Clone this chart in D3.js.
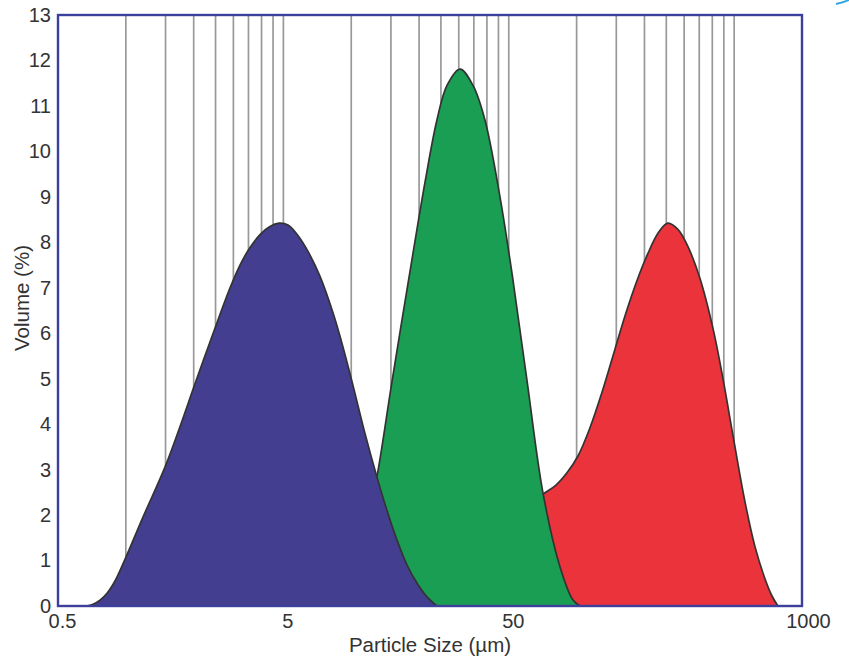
<!DOCTYPE html>
<html>
<head>
<meta charset="utf-8">
<script src="https://cdn.jsdelivr.net/npm/d3@7"></script>
<style>
  html, body { margin: 0; padding: 0; background: #fff; }
  text { font-family: "Liberation Sans", Arial, sans-serif; fill: #333; }
</style>
</head>
<body>
<div id="chart"></div>
<script>
// particle sizes (µm) and volume (%)
const blueSize = [0.666, 0.715, 0.768, 0.825, 0.895, 0.98, 1.19, 1.49, 1.74, 2.03, 2.44, 2.90, 3.21, 3.55, 3.94, 4.36, 4.78, 5.24, 5.80, 6.43, 7.27, 8.3, 9.19, 10.18, 11.5, 13.0, 14.41, 15.96, 17.68, 19.6, 21.68, 24.0];
const blueVol  = [0, 0.04, 0.13, 0.28, 0.55, 0.97, 1.95, 3.05, 3.95, 4.9, 6.0, 7.0, 7.5, 7.88, 8.17, 8.35, 8.42, 8.38, 8.15, 7.8, 7.25, 6.45, 5.7, 4.85, 3.8, 2.84, 2.1, 1.45, 0.9, 0.5, 0.2, 0];

const greenSize = [8.9, 10.4, 11.5, 13.0, 15.2, 19.0, 21.3, 24.0, 26.6, 30.4, 34.7, 39.2, 45.7, 52.2, 60.2, 70.9, 84.4, 96.4, 103.5];
const greenVol  = [0, 0.8, 1.6, 2.84, 4.97, 7.9, 9.35, 10.69, 11.45, 11.81, 11.45, 10.69, 9.0, 7.17, 4.97, 2.49, 0.86, 0.13, 0];

const redSize = [37.3, 45.7, 56.1, 65.3, 72.4, 81.0, 90.6, 101.4, 114.6, 129.6, 148, 165.6, 185, 207, 229.6, 254, 282, 309, 353, 403, 446, 494, 558, 619, 685, 736, 782];
const redVol  = [0, 1.3, 2.1, 2.35, 2.49, 2.66, 2.93, 3.3, 3.92, 4.7, 5.65, 6.45, 7.15, 7.75, 8.2, 8.42, 8.28, 7.95, 7.2, 6.1, 5.0, 3.75, 2.3, 1.3, 0.6, 0.22, 0];

// vertical grid (sieve sizes)
const gridSizes = [1, 1.5, 2, 2.5, 3, 3.5, 4, 4.5, 5, 10, 15, 20, 25, 30, 35, 40, 45, 50, 100, 150, 200, 250, 300, 350, 400, 450, 500];
const xTicks = [0.5, 5, 50, 1000];
const yTicks = d3.range(0, 14);

const W = 849, H = 659;
const margin = { top: 15, right: 47, bottom: 53, left: 58 };
const width = W - margin.left - margin.right;
const height = H - margin.top - margin.bottom;

const svg = d3.select("#chart").append("svg")
  .attr("width", W)
  .attr("height", H);

const g = svg.append("g")
  .attr("transform", `translate(${margin.left},${margin.top})`);

const x = d3.scaleLog().domain([0.5, 1000]).range([0, width]);
const y = d3.scaleLinear().domain([0, 13]).range([height, 0]);

// grid lines
g.selectAll("line.grid").data(gridSizes).enter()
  .append("line")
  .attr("class", "grid")
  .attr("x1", d => x(d)).attr("x2", d => x(d))
  .attr("y1", 0).attr("y2", height)
  .attr("stroke", "#999")
  .attr("stroke-width", 1.7);

// areas, red behind green behind blue
const series = [
  { size: redSize, vol: redVol, color: "#ea333b" },
  { size: greenSize, vol: greenVol, color: "#1a9e53" },
  { size: blueSize, vol: blueVol, color: "#433e8f" }
];

const area = d3.area()
  .x(d => x(d[0]))
  .y0(y(0))
  .y1(d => y(d[1]))
  .curve(d3.curveCatmullRom.alpha(0.5));

series.forEach(s => {
  const pts = s.size.map((v, i) => [v, s.vol[i]]);
  g.append("path")
    .datum(pts)
    .attr("d", area)
    .attr("fill", s.color)
    .attr("stroke", "#333")
    .attr("stroke-width", 1.7)
    .attr("stroke-linejoin", "round");
});

// frame
g.append("rect")
  .attr("x", 0).attr("y", 0)
  .attr("width", width).attr("height", height)
  .attr("fill", "none")
  .attr("stroke", "#3c3f9c")
  .attr("stroke-width", 2.4);

// y axis labels
const yAxis = g.append("g")
  .call(d3.axisLeft(y).tickValues(yTicks).tickSize(0).tickPadding(7));
yAxis.select(".domain").remove();
yAxis.selectAll("text")
  .style("font-size", "20px")
  .attr("fill", "#333");

// x axis labels
const xAxis = g.append("g")
  .attr("transform", `translate(0,${height})`)
  .call(d3.axisBottom(x).tickValues(xTicks).tickFormat(d => d).tickSize(0).tickPadding(8));
xAxis.select(".domain").remove();
xAxis.selectAll("text")
  .style("font-size", "20px")
  .attr("fill", "#333")
  .attr("dx", (d) => d === 1000 ? 6 : 4);

// axis titles
g.append("text")
  .attr("text-anchor", "middle")
  .attr("x", width / 2)
  .attr("y", height + 46)
  .style("font-size", "20.5px")
  .text("Particle Size (µm)");

svg.append("text")
  .attr("text-anchor", "middle")
  .attr("transform", "rotate(-90)")
  .attr("x", -298)
  .attr("y", 29)
  .style("font-size", "20.5px")
  .text("Volume (%)");

// little cyan mark at the top right corner
svg.append("path")
  .attr("d", "M836,4 Q842,3 849,0")
  .attr("fill", "none")
  .attr("stroke", "#2aa8df")
  .attr("stroke-width", 2);
</script>
</body>
</html>
